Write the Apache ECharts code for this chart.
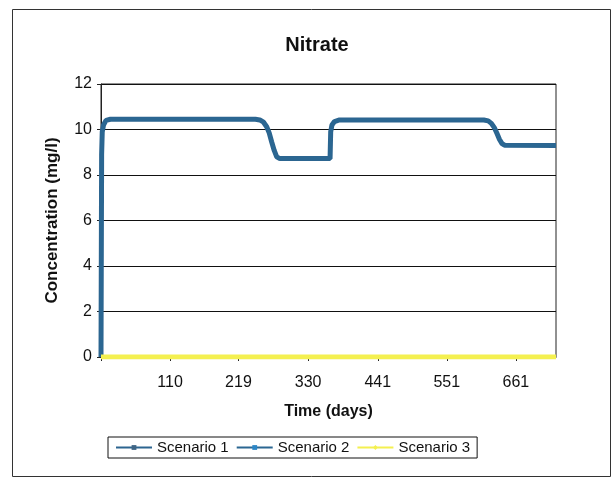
<!DOCTYPE html>
<html>
<head>
<meta charset="utf-8">
<script src="https://cdn.jsdelivr.net/npm/echarts@6/dist/echarts.min.js"></script>
<style>
  html, body { margin: 0; padding: 0; background: #fff; }
  #chart { width: 614px; height: 479px; }
</style>
</head>
<body>
<div id="chart"></div>
<script>
// Simulated nitrate concentration (mg/l) over time (days)
const days = [0, 1, 2, 4, 8, 15, 246, 253, 259, 264, 268, 272, 276, 280, 285, 365, 366, 368, 372, 380,
              610, 617, 622, 627, 631, 635, 639, 643, 725];
const scenario1 = [0, 8.9, 9.9, 10.2, 10.4, 10.45, 10.45, 10.42, 10.32, 10.12, 9.85, 9.45, 9.08, 8.8, 8.72, 8.72, 9.9, 10.2, 10.35, 10.42,
                   10.42, 10.38, 10.27, 10.07, 9.82, 9.56, 9.38, 9.31, 9.3];
const scenario2 = [0, 8.9, 9.9, 10.2, 10.4, 10.45, 10.45, 10.42, 10.32, 10.12, 9.85, 9.45, 9.08, 8.8, 8.72, 8.72, 9.9, 10.2, 10.35, 10.42,
                   10.42, 10.38, 10.27, 10.07, 9.82, 9.56, 9.38, 9.31, 9.3];
const days3 = [0, 725];
const scenario3 = [0, 0];
const tickDays = [0, 110, 219, 330, 441, 551, 661];
const labelDays = [110, 219, 330, 441, 551, 661];

const pairs = (xs, ys) => xs.map((x, i) => [x, ys[i]]);
const font = '"Liberation Sans", Arial, sans-serif';

const chart = echarts.init(document.getElementById('chart'), null, { renderer: 'canvas' });
chart.setOption({
  animation: false,
  backgroundColor: '#ffffff',
  title: {
    text: 'Nitrate',
    left: 312, top: 30, textAlign: 'center',
    textStyle: { fontFamily: font, fontSize: 20, fontWeight: 'bold', color: '#111' }
  },
  graphic: [{
    type: 'rect', shape: { x: 12.5, y: 9.5, width: 598, height: 467 },
    style: { fill: 'none', stroke: '#333', lineWidth: 1 }, z: -1
  }],
  legend: {
    left: 108, top: 437, width: 370, height: 23,
    padding: [3, 7, 3, 7],
    borderColor: '#111', borderWidth: 1,
    itemWidth: 36, itemHeight: 6, itemGap: 7,
    textStyle: { fontFamily: font, fontSize: 15, color: '#111' },
    data: ['Scenario 1', 'Scenario 2', 'Scenario 3']
  },
  grid: { left: 101, right: 58, top: 84, bottom: 122, show: true, borderColor: '#222', borderWidth: 1 },
  xAxis: {
    type: 'value', min: 0, max: 725,
    name: 'Time (days)', nameLocation: 'middle', nameGap: 47,
    nameTextStyle: { fontFamily: font, fontSize: 16, fontWeight: 'bold', color: '#111' },
    axisLine: { lineStyle: { color: '#222', width: 1 } },
    axisTick: { show: true, length: 4, customValues: tickDays, lineStyle: { color: '#222' } },
    axisLabel: { customValues: labelDays, margin: 18, fontFamily: font, fontSize: 16, color: '#111' },
    splitLine: { show: false }
  },
  yAxis: {
    type: 'value', min: 0, max: 12, interval: 2,
    name: 'Concentration (mg/l)', nameLocation: 'middle', nameGap: 40,
    nameTextStyle: { fontFamily: font, fontSize: 17, fontWeight: 'bold', color: '#111' },
    axisLine: { show: true, lineStyle: { color: '#222', width: 1 } },
    axisTick: { show: true, length: 4, lineStyle: { color: '#222' } },
    axisLabel: { margin: 9, fontFamily: font, fontSize: 16, color: '#111' },
    splitLine: { show: true, lineStyle: { color: '#111', width: 1 } }
  },
  series: [
    {
      name: 'Scenario 1', type: 'line', data: pairs(days, scenario1),
      color: '#3f6585', symbol: 'rect', symbolSize: 5, showSymbol: false,
      lineStyle: { width: 5, color: '#2c6590' }, z: 3
    },
    {
      name: 'Scenario 2', type: 'line', data: pairs(days, scenario2),
      color: '#2c86c6', symbol: 'rect', symbolSize: 5, showSymbol: false,
      lineStyle: { width: 3, color: '#2b6792' }, z: 4
    },
    {
      name: 'Scenario 3', type: 'line', data: pairs(days3, scenario3),
      color: '#f4f050', symbol: 'diamond', symbolSize: 5, showSymbol: false,
      lineStyle: { width: 5, color: '#f4f050' }, z: 5
    }
  ]
});
</script>
</body>
</html>
